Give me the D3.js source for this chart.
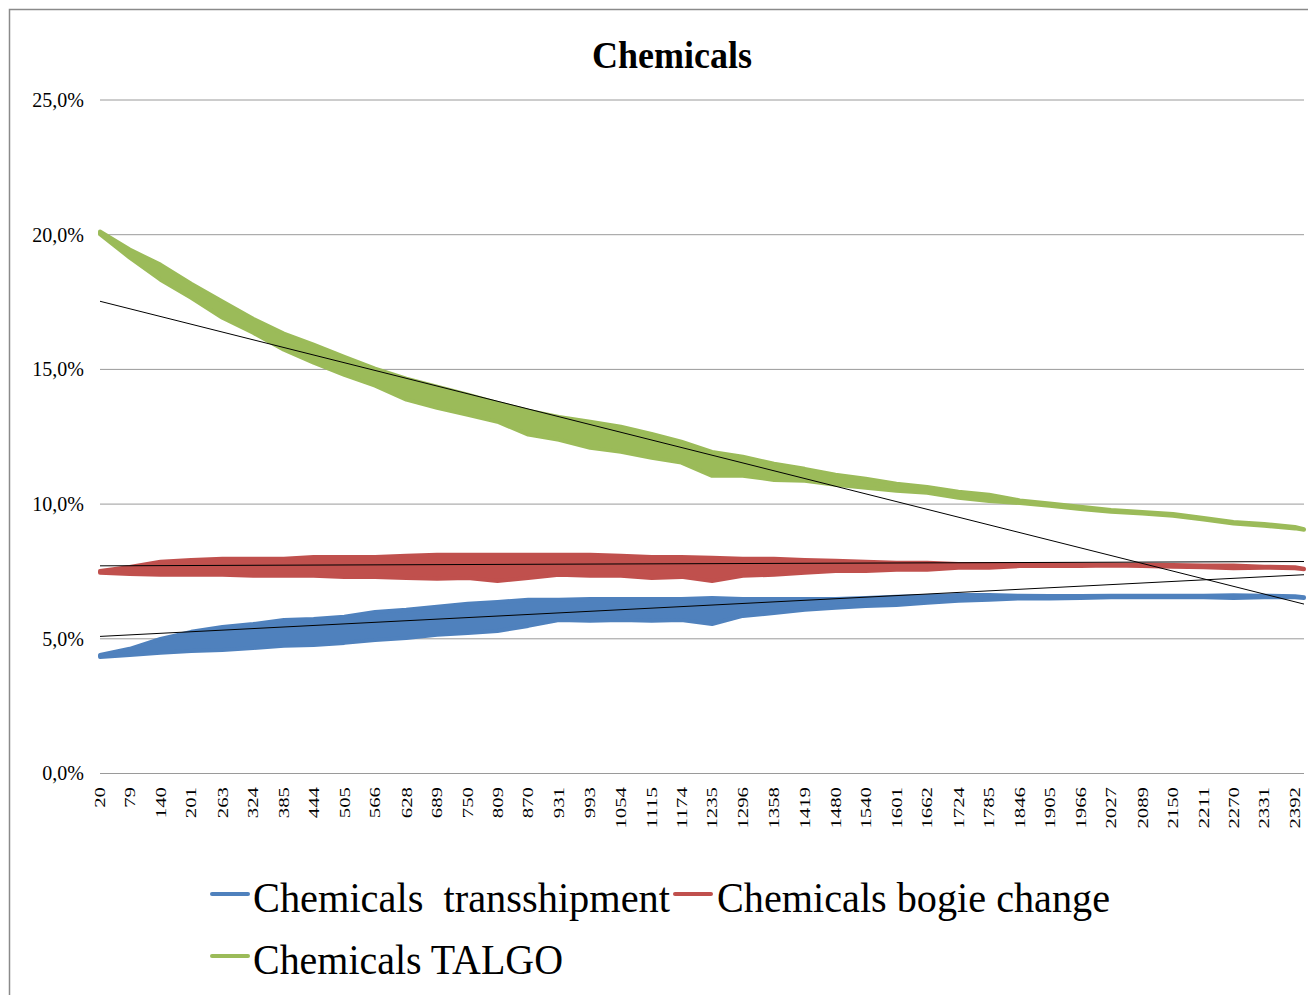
<!DOCTYPE html>
<html>
<head>
<meta charset="utf-8">
<script src="https://cdn.jsdelivr.net/npm/d3@7"></script>
<style>
  body { margin: 0; background: #fff; }
  svg { display: block; font-family: "Liberation Serif", "Times New Roman", serif; }
</style>
</head>
<body>
<script>
// distance labels on the category axis (km)
const tickKm = [20, 79, 140, 201, 263, 324, 385, 444, 505, 566, 628, 689, 750, 809, 870, 931,
    993, 1054, 1115, 1174, 1235, 1296, 1358, 1419, 1480, 1540, 1601, 1662, 1724, 1785, 1846,
    1905, 1966, 2027, 2089, 2150, 2211, 2270, 2331, 2392];
// the series run a little past the last label
const pointKm = tickKm.concat([2410]);

const yTicks = [0, 5, 10, 15, 20, 25];

// upper / lower edge of each oscillating series (%), read at every label
const transshipmentHigh = [4.38, 4.61, 4.98, 5.24, 5.42, 5.53, 5.68, 5.72, 5.80, 5.98, 6.06, 6.17, 6.28, 6.35,
    6.43, 6.43, 6.46, 6.46, 6.46, 6.46, 6.50, 6.46, 6.46, 6.46, 6.46, 6.50, 6.54, 6.57, 6.61, 6.61,
    6.58, 6.57, 6.57, 6.58, 6.58, 6.58, 6.58, 6.60, 6.58, 6.56, 6.52];
const transshipmentLow = [4.31, 4.38, 4.46, 4.53, 4.57, 4.64, 4.72, 4.75, 4.83, 4.94, 5.01, 5.13, 5.20, 5.27,
    5.46, 5.68, 5.65, 5.68, 5.65, 5.68, 5.53, 5.83, 5.94, 6.06, 6.13, 6.20, 6.24, 6.32, 6.39, 6.43,
    6.48, 6.48, 6.50, 6.52, 6.52, 6.52, 6.52, 6.50, 6.52, 6.52, 6.50];

const bogieHigh = [7.50, 7.65, 7.84, 7.91, 7.95, 7.95, 7.95, 8.02, 8.02, 8.02, 8.06, 8.10, 8.10, 8.10,
    8.10, 8.10, 8.10, 8.06, 8.02, 8.02, 7.99, 7.95, 7.95, 7.91, 7.88, 7.84, 7.80, 7.80, 7.76, 7.76,
    7.76, 7.75, 7.74, 7.74, 7.73, 7.72, 7.70, 7.70, 7.66, 7.64, 7.58];
const bogieLow = [7.43, 7.39, 7.36, 7.36, 7.36, 7.32, 7.32, 7.32, 7.28, 7.28, 7.24, 7.21, 7.24, 7.13,
    7.24, 7.36, 7.32, 7.32, 7.24, 7.28, 7.13, 7.32, 7.36, 7.43, 7.50, 7.50, 7.54, 7.54, 7.62, 7.62,
    7.68, 7.68, 7.68, 7.70, 7.68, 7.66, 7.64, 7.60, 7.62, 7.60, 7.56];

const talgoHigh = [20.10, 19.43, 18.87, 18.16, 17.50, 16.86, 16.31, 15.90, 15.45, 15.01, 14.64, 14.34,
    14.04, 13.74, 13.45, 13.22, 13.04, 12.85, 12.59, 12.30, 11.92, 11.74, 11.48, 11.29, 11.07, 10.92,
    10.74, 10.62, 10.44, 10.33, 10.12, 10.00, 9.88, 9.76, 9.69, 9.61, 9.47, 9.32, 9.24, 9.13, 9.05];
const talgoLow = [20.00, 19.13, 18.31, 17.64, 16.90, 16.34, 15.71, 15.23, 14.78, 14.38, 13.86, 13.56,
    13.30, 13.04, 12.56, 12.37, 12.07, 11.92, 11.70, 11.52, 11.03, 11.03, 10.88, 10.85, 10.70, 10.59,
    10.48, 10.40, 10.22, 10.10, 10.02, 9.92, 9.80, 9.70, 9.63, 9.55, 9.41, 9.26, 9.18, 9.08, 9.03];

// linear trend lines: value at first and last point (%)
const transshipmentTrend = [5.07, 7.36];
const bogieTrend = [7.69, 7.85];
const talgoTrend = [17.51, 6.27];

const series = [
    { name: 'Chemicals  transshipment', color: '#4F81BD', high: transshipmentHigh, low: transshipmentLow, trend: transshipmentTrend },
    { name: 'Chemicals bogie change', color: '#C0504D', high: bogieHigh, low: bogieLow, trend: bogieTrend },
    { name: 'Chemicals TALGO', color: '#9BBB59', high: talgoHigh, low: talgoLow, trend: talgoTrend }
];

const width = 1308;
const height = 995;
const plot = { left: 100, right: 1304, top: 99.5, bottom: 773 };

const svg = d3.select('body').append('svg')
    .attr('width', width)
    .attr('height', height);

svg.append('rect')
    .attr('width', width)
    .attr('height', height)
    .attr('fill', '#fff');

// chart frame (only left and top edges fall inside the picture)
svg.append('rect')
    .attr('x', 9.5)
    .attr('y', 9.5)
    .attr('width', width + 10)
    .attr('height', height + 10)
    .attr('fill', 'none')
    .attr('stroke', '#8a8a8a')
    .attr('stroke-width', 1.5);

const x = d3.scaleLinear()
    .domain([pointKm[0], pointKm[pointKm.length - 1]])
    .range([plot.left, plot.right]);

const y = d3.scaleLinear()
    .domain([0, 25])
    .range([plot.bottom, plot.top]);

const yAxis = d3.axisLeft(y)
    .tickValues(yTicks)
    .tickSize(-(plot.right - plot.left))
    .tickPadding(16)
    .tickFormat(d => d.toFixed(1).replace('.', ',') + '%');

const gy = svg.append('g')
    .attr('transform', `translate(${plot.left},0)`)
    .call(yAxis);
gy.select('.domain').remove();
gy.selectAll('line')
    .attr('stroke', '#9a9a9a')
    .attr('stroke-width', 1);
gy.selectAll('text')
    .attr('fill', '#000')
    .attr('dy', '0.34em')
    .style('font-family', '"Liberation Serif", serif')
    .style('font-size', '20px');

const xAxis = d3.axisBottom(x)
    .tickValues(tickKm)
    .tickSize(0)
    .tickFormat(d3.format('d'));

const gx = svg.append('g')
    .attr('transform', `translate(0,${plot.bottom})`)
    .call(xAxis);
gx.select('.domain').remove();
gx.selectAll('text')
    .attr('fill', '#000')
    .attr('x', -14)
    .attr('y', 0)
    .attr('dy', '0.34em')
    .attr('transform', 'rotate(-90)')
    .attr('text-anchor', 'end')
    .attr('textLength', d => String(d).length * 10.4)
    .attr('lengthAdjust', 'spacingAndGlyphs')
    .style('font-family', '"Liberation Serif", serif')
    .style('font-size', '14px');

// each series is a dense saw-tooth; draw it as the band between its edges
const band = d3.area()
    .x((d, i) => x(pointKm[i]))
    .y0(d => y(d[1]))
    .y1(d => y(d[0]));

svg.append('g')
    .selectAll('path')
    .data(series)
    .join('path')
    .attr('d', s => band(d3.zip(s.high, s.low)))
    .attr('fill', s => s.color)
    .attr('stroke', s => s.color)
    .attr('stroke-width', 4)
    .attr('stroke-linejoin', 'round');

svg.append('g')
    .selectAll('line')
    .data(series)
    .join('line')
    .attr('x1', x(pointKm[0]))
    .attr('x2', x(pointKm[pointKm.length - 1]))
    .attr('y1', s => y(s.trend[0]))
    .attr('y2', s => y(s.trend[1]))
    .attr('stroke', '#000')
    .attr('stroke-width', 1);

svg.append('text')
    .attr('x', 672)
    .attr('y', 68)
    .attr('text-anchor', 'middle')
    .attr('textLength', 160)
    .attr('lengthAdjust', 'spacingAndGlyphs')
    .style('font-size', '37px')
    .style('font-weight', 'bold')
    .text('Chemicals');

// legend
const legendItems = [
    { x: 210, y: 912, width: 417 },
    { x: 673, y: 912, width: 393 },
    { x: 210, y: 974, width: 310 }
];

const legend = svg.append('g')
    .selectAll('g')
    .data(series)
    .join('g')
    .attr('transform', (s, i) => `translate(${legendItems[i].x},${legendItems[i].y})`);

legend.append('line')
    .attr('x1', 2)
    .attr('x2', 38)
    .attr('y1', -18)
    .attr('y2', -18)
    .attr('stroke', s => s.color)
    .attr('stroke-width', 4)
    .attr('stroke-linecap', 'round');

legend.append('text')
    .attr('x', (s, i) => i === 1 ? 44 : 43)
    .attr('y', 0)
    .attr('textLength', (s, i) => legendItems[i].width)
    .attr('lengthAdjust', 'spacingAndGlyphs')
    .style('font-size', '43px')
    .style('white-space', 'pre')
    .text(s => s.name);
</script>
</body>
</html>
